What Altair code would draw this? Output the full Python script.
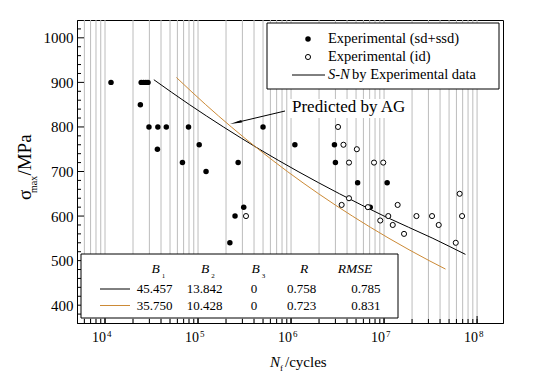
import altair as alt
import pandas as pd

# ---------------- data ----------------
filled_N = [1.16e4, 2.45e4, 2.6e4, 2.75e4, 2.9e4, 2.4e4, 2.97e4, 3.7e4, 4.56e4, 7.9e4,
            3.66e4, 6.8e4, 1.03e5, 1.22e5, 2.7e5, 5.0e5, 2.2e5, 2.5e5, 3.1e5, 1.1e6,
            2.93e6, 3.0e6, 5.2e6, 1.08e7, 7.1e6]
filled_S = [900, 900, 900, 900, 900, 850, 800, 800, 800, 800,
            750, 720, 760, 700, 720, 800, 540, 600, 620, 760,
            760, 720, 675, 675, 620]
open_N = [3.28e5, 3.2e6, 3.66e6, 5.1e6, 4.2e6, 7.8e6, 9.8e6, 6.5e7, 4.2e6, 3.5e6,
          6.7e6, 1.4e7, 1.11e7, 2.23e7, 3.28e7, 6.9e7, 9.1e6, 1.24e7, 3.87e7, 1.64e7, 5.9e7]
open_S = [600, 800, 760, 750, 720, 720, 720, 650, 640, 625,
          620, 625, 600, 600, 600, 600, 590, 580, 580, 560, 540]

sn_exp_N = [3.35e4, 8.1e4, 1.875e5, 4.57e5, 1.19e6, 3.32e6, 1.0e7, 3.35e7, 7.5e7]
sn_exp_S = [906, 850, 800, 750, 700, 650, 600, 550, 514]
sn_ag_N = [5.86e4, 1.21e5, 2.28e5, 4.46e5, 9.14e5, 1.98e6, 4.56e6, 1.13e7, 3.05e7, 4.58e7]
sn_ag_S = [911, 850, 800, 750, 700, 650, 600, 550, 500, 481]

x_decades = [1e4, 1e5, 1e6, 1e7, 1e8]
x_exponents = ["4", "5", "6", "7", "8"]
y_major = [400, 500, 600, 700, 800, 900, 1000]

table_header = ["B", "B", "B", "R", "RMSE"]
table_header_sub = ["1", "2", "3", "", ""]
table_row1 = ["45.457", "13.842", "0", "0.758", "0.785"]
table_row2 = ["35.750", "10.428", "0", "0.723", "0.831"]

legend_labels = ["Experimental (sd+ssd)", "Experimental (id)", "S-N", "by Experimental data"]
annotation = "Predicted by AG"

# ---------------- styling / layout ----------------
FONT = "'Liberation Serif', 'DejaVu Serif', serif"
ORANGE = "#cc8a36"
GRID = "#bcbcbc"
W, H = 426, 303
X0, Y0 = 77, 20  # page position of plot origin


def px(v):
    return v - X0


def py(v):
    return v - Y0


xscale = alt.Scale(type="log", domain=[5000, 1.9e8], nice=False)
yscale = alt.Scale(domain=[360, 1040], nice=False, zero=False)
xaxis = alt.Axis(labels=False, ticks=False, tickSize=0, grid=False, domain=True,
                 domainColor="black", title=None)
yaxis = alt.Axis(values=y_major, ticks=False, tickSize=0, grid=False, domain=True,
                 domainColor="black", title=None, labelFont=FONT, labelFontSize=15,
                 labelColor="black", labelPadding=4, labelFlush=False, format="d")


def X(field):
    return alt.X(field, type="quantitative", scale=xscale, axis=xaxis)


def Y(field):
    return alt.Y(field, type="quantitative", scale=yscale, axis=yaxis)


one = pd.DataFrame({"k": [0]})


def txt(text, x, y, size, align="left", italic=False, angle=0, baseline="middle"):
    kw = dict(text=text, font=FONT, fontSize=size, align=align, baseline=baseline,
              color="black")
    if italic:
        kw["fontStyle"] = "italic"
    if angle:
        kw["angle"] = angle
    return alt.Chart(one).mark_text(**kw).encode(x=alt.value(x), y=alt.value(y))


def box(x1, x2, y1, y2, stroke=True):
    kw = dict(fill="white", fillOpacity=1)
    if stroke:
        kw.update(stroke="black", strokeWidth=1)
    return alt.Chart(one).mark_rect(**kw).encode(
        x=alt.value(x1), x2=alt.value(x2), y=alt.value(y1), y2=alt.value(y2))


def hline(x1, x2, y, color):
    return alt.Chart(one).mark_rule(color=color, strokeWidth=1).encode(
        x=alt.value(x1), x2=alt.value(x2), y=alt.value(y))


# grid / tick positions
grid_vals = [m * 10 ** e for e in range(3, 9) for m in range(1, 10) if 5000 < m * 10 ** e <= 1e8]
grid_df = pd.DataFrame({"N": grid_vals})
dec_df = pd.DataFrame({"N": x_decades, "e": x_exponents})
ymin_df = pd.DataFrame({"S": [v for v in range(380, 1040, 20) if v % 100 != 0]})
ymaj_df = pd.DataFrame({"S": y_major})

layers = []
layers.append(alt.Chart(grid_df).mark_rule(color=GRID, strokeWidth=1).encode(
    x=X("N"), y=alt.value(0), y2=alt.value(H)))
# bottom inward ticks
layers.append(alt.Chart(grid_df).mark_rule(color="black", strokeWidth=1).encode(
    x=X("N"), y=alt.value(H), y2=alt.value(H - 4)))
layers.append(alt.Chart(dec_df).mark_rule(color="black", strokeWidth=1).encode(
    x=X("N"), y=alt.value(H), y2=alt.value(H - 7)))
# left inward ticks
layers.append(alt.Chart(ymin_df).mark_rule(color="black", strokeWidth=1).encode(
    y=Y("S"), x=alt.value(0), x2=alt.value(4)))
layers.append(alt.Chart(ymaj_df).mark_rule(color="black", strokeWidth=1).encode(
    y=Y("S"), x=alt.value(0), x2=alt.value(7)))

# x tick labels 10^n
layers.append(alt.Chart(dec_df).mark_text(text="10", font=FONT, fontSize=14, align="right",
                                          baseline="middle", dx=1, color="black").encode(
    x=X("N"), y=alt.value(py(338))))
layers.append(alt.Chart(dec_df).mark_text(font=FONT, fontSize=9, align="left",
                                          baseline="middle", dx=2, color="black").encode(
    x=X("N"), y=alt.value(py(334)), text="e:N"))

# boxes
layers.append(box(px(267), px(499), py(23), py(89)))
layers.append(box(px(81), px(398), py(254), py(318)))
layers.append(box(px(288), px(408), py(99), py(118), stroke=False))

# curves
layers.append(alt.Chart(pd.DataFrame({"N": sn_exp_N, "S": sn_exp_S})).mark_line(
    color="black", strokeWidth=1, interpolate="monotone").encode(x=X("N"), y=Y("S")))
layers.append(alt.Chart(pd.DataFrame({"N": sn_ag_N, "S": sn_ag_S})).mark_line(
    color=ORANGE, strokeWidth=1, interpolate="monotone").encode(x=X("N"), y=Y("S")))

# points
layers.append(alt.Chart(pd.DataFrame({"N": filled_N, "S": filled_S})).mark_point(
    shape="circle", filled=True, size=30, color="black", opacity=1).encode(x=X("N"), y=Y("S")))
layers.append(alt.Chart(pd.DataFrame({"N": open_N, "S": open_S})).mark_point(
    shape="circle", filled=False, size=26, fill="white", fillOpacity=1, stroke="black",
    strokeWidth=1, opacity=1).encode(x=X("N"), y=Y("S")))

# legend entries
layers.append(alt.Chart(one).mark_point(shape="circle", filled=True, size=30, color="black",
                                        opacity=1).encode(x=alt.value(px(308)), y=alt.value(py(39))))
layers.append(alt.Chart(one).mark_point(shape="circle", filled=False, size=26, fill="white",
                                        stroke="black", strokeWidth=1, opacity=1).encode(
    x=alt.value(px(308)), y=alt.value(py(57))))
layers.append(hline(px(292), px(325), py(75), "black"))
layers.append(txt(legend_labels[0], px(328), py(39), 14.5))
layers.append(txt(legend_labels[1], px(328), py(57), 14.5))
layers.append(txt(legend_labels[2], px(328), py(75), 14.5, italic=True))
layers.append(txt(legend_labels[3], px(352), py(75), 14.5))

# annotation with arrow
layers.append(txt(annotation, px(292), py(107), 17))
layers.append(alt.Chart(one).mark_rule(color="black", strokeWidth=1).encode(
    x=alt.value(px(285)), y=alt.value(py(111)), x2=alt.value(px(236)), y2=alt.value(py(122.6))))
layers.append(alt.Chart(one).mark_point(shape="M0,-1L0.22,1L-0.22,1Z", filled=True, size=144,
                                        color="black", opacity=1, angle=256.7).encode(
    x=alt.value(px(235.8)), y=alt.value(py(122.6))))

# table
col_x = [155.5, 205, 255.5, 304, 355]
val_x = [154.7, 204.7, 254, 301.7, 365.8]
for i, h in enumerate(table_header):
    layers.append(txt(h, px(col_x[i]), py(269), 13.5, align="center", italic=True))
    if table_header_sub[i]:
        layers.append(txt(table_header_sub[i], px(col_x[i] + 8), py(276), 7, align="center"))
for i in range(5):
    layers.append(txt(table_row1[i], px(val_x[i]), py(289), 13, align="center"))
    layers.append(txt(table_row2[i], px(val_x[i]), py(305.5), 13, align="center"))
layers.append(hline(px(100), px(130), py(289), "black"))
layers.append(hline(px(100), px(130), py(305.5), ORANGE))

# axis titles
layers.append(txt("σ", px(25), py(200), 19, angle=270))
layers.append(txt("max", px(33.5), py(193), 10, angle=270))
layers.append(txt("/MPa", px(25), py(155), 19, align="center", angle=270))
layers.append(txt("N", px(270), py(362), 15, italic=True))
layers.append(txt("f", px(280), py(368), 9))
layers.append(txt("/cycles", px(285), py(362), 15))

chart = alt.layer(*layers).properties(
    width=W, height=H,
    autosize=alt.AutoSizeParams(type="none"),
    padding={"left": 69, "top": 12, "right": 33, "bottom": 51},
).configure_view(stroke="black", strokeWidth=1).configure_axis(domainWidth=1)

chart.save("out.html", embed_options={"renderer": "svg", "actions": False})
